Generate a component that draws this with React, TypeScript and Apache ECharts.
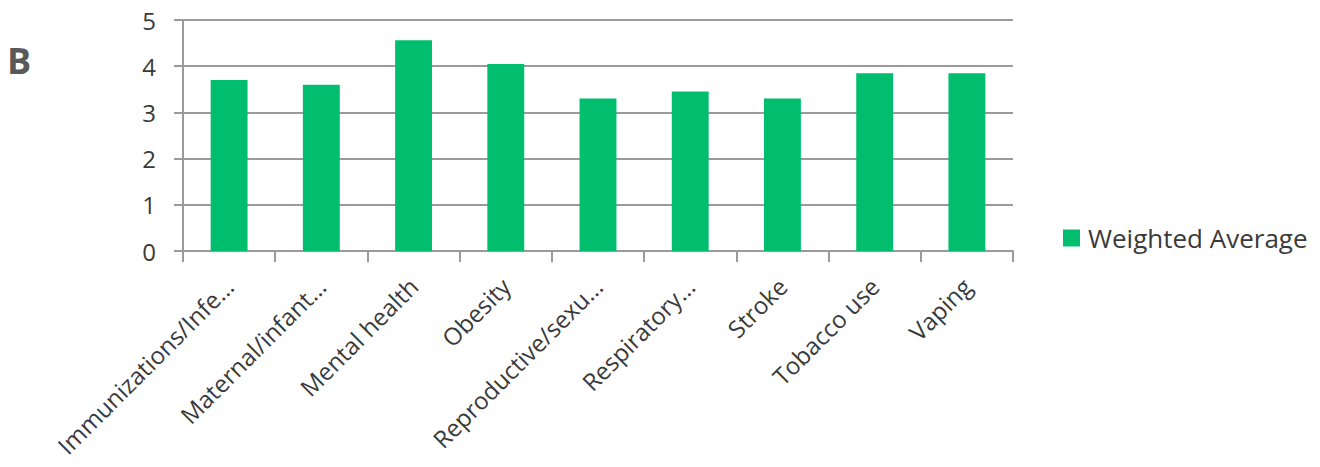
import React, { useEffect, useRef } from "react";
import * as echarts from "echarts";

const categories = [
  "Immunizations/Infe...",
  "Maternal/infant...",
  "Mental health",
  "Obesity",
  "Reproductive/sexu...",
  "Respiratory...",
  "Stroke",
  "Tobacco use",
  "Vaping",
];
const weightedAverage = [3.7, 3.6, 4.56, 4.05, 3.3, 3.45, 3.3, 3.85, 3.85];
const yTicks = [0, 1, 2, 3, 4, 5];
const seriesName = "Weighted Average";
const panelLabel = "B";

const FONT = "'Open Sans', sans-serif";
const TEXT = "#3a3a3a";
const AXIS = "#9a9a9a";
const GREEN = "#00BE6E";

export default function App() {
  const ref = useRef<HTMLDivElement>(null);
  useEffect(() => {
    if (!ref.current) return;
    const chart = echarts.init(ref.current, null, { renderer: "svg" });
    chart.setOption({
      animation: false,
      backgroundColor: "#ffffff",
      textStyle: { fontFamily: FONT },
      title: {
        text: panelLabel,
        left: 7,
        top: 42,
        padding: 0,
        textStyle: { fontSize: 36, fontWeight: "bold", color: "#595959", fontFamily: FONT },
      },
      legend: {
        data: [seriesName],
        left: 1063,
        top: 225,
        padding: 0,
        icon: "rect",
        itemWidth: 17,
        itemHeight: 17,
        itemGap: 8,
        textStyle: { fontSize: 26, color: TEXT, fontFamily: FONT, padding: [0, 0, 0, 3] },
      },
      grid: {
        left: 183,
        right: 307,
        top: 20,
        bottom: 216,
        containLabel: false,
        outerBoundsMode: "none",
      },
      xAxis: {
        type: "category",
        data: categories,
        boundaryGap: true,
        axisLine: { show: true, lineStyle: { color: AXIS, width: 2 } },
        axisTick: { show: true, length: 11, alignWithLabel: false, lineStyle: { color: AXIS, width: 2 } },
        axisLabel: {
          rotate: 45,
          interval: 0,
          margin: 31,
          fontSize: 24,
          color: TEXT,
          fontFamily: FONT,
        },
      },
      yAxis: {
        type: "value",
        min: yTicks[0],
        max: yTicks[yTicks.length - 1],
        interval: 1,
        axisLine: { show: true, lineStyle: { color: AXIS, width: 2 } },
        axisTick: { show: true, length: 9, inside: false, lineStyle: { color: AXIS, width: 2 } },
        splitLine: { show: true, lineStyle: { color: AXIS, width: 2 } },
        axisLabel: { fontSize: 24, color: TEXT, margin: 27, fontFamily: FONT },
      },
      series: [
        {
          name: seriesName,
          type: "bar",
          data: weightedAverage,
          barWidth: "40%",
          itemStyle: { color: GREEN },
        },
      ],
    });
    return () => chart.dispose();
  }, []);
  return (
    <div
      ref={ref}
      style={{ position: "absolute", left: 0, top: 0, width: 1320, height: 467 }}
    />
  );
}
